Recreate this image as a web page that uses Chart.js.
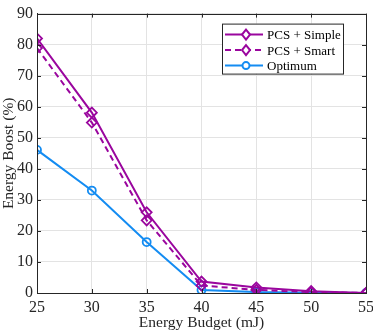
<!DOCTYPE html>
<html>
<head>
<meta charset="utf-8">
<script src="https://cdn.jsdelivr.net/npm/chart.js@4/dist/chart.umd.min.js"></script>
<style>
html,body{margin:0;padding:0;background:#fff}
#wrap{width:373px;height:332px}
</style>
</head>
<body>
<div id="wrap"><canvas id="c" width="373" height="332"></canvas></div>
<script>
// данные графика
const budgets = [25, 30, 35, 40, 45, 50, 55]
const pcsSimple = [82, 58.1, 26, 3.7, 1.8, 0.6, 0]
const pcsSmart = [78.9, 54.9, 23.4, 2.4, 1.0, 0.3, 0]
const optimum = [46.1, 33, 16.4, 1.0, 0.3, 0.1, 0]
const yTicks = [0, 10, 20, 30, 40, 50, 60, 70, 80, 90]
const seriesNames = ["PCS + Simple", "PCS + Smart", "Optimum"]

const purple = "#9a069e"
const blue = "#148cf2"
const serif = "'Liberation Serif', 'DejaVu Serif', serif"

function pts(vals){
return budgets.map((x,i)=>({x:x, y:vals[i]}))
}

// рамка и внутренние засечки как в matlab
const boxPlugin = {
id:"box",
afterDraw(chart){
const ctx = chart.ctx
const a = chart.chartArea
const xs = chart.scales.x
const ys = chart.scales.y
ctx.save()
ctx.strokeStyle = "#262626"
ctx.lineWidth = 1
ctx.beginPath()
budgets.forEach(v=>{
const px = Math.round(xs.getPixelForValue(v)) + 0.5
ctx.moveTo(px, a.bottom); ctx.lineTo(px, a.bottom - 4)
ctx.moveTo(px, a.top); ctx.lineTo(px, a.top + 4)
})
yTicks.forEach(v=>{
const py = Math.round(ys.getPixelForValue(v)) + 0.5
ctx.moveTo(a.left, py); ctx.lineTo(a.left + 4, py)
ctx.moveTo(a.right, py); ctx.lineTo(a.right - 4, py)
})
ctx.stroke()
ctx.strokeRect(Math.round(a.left)+0.5, Math.round(a.top)+0.5, Math.round(a.right-a.left), Math.round(a.bottom-a.top))
ctx.restore()
}
}

// легенда внутри поля графика
const legendPlugin = {
id:"innerLegend",
afterDraw(chart){
const ctx = chart.ctx
const a = chart.chartArea
const bx = a.right - 144, by = a.top + 10, bw = 121, bh = 50
ctx.save()
ctx.fillStyle = "#fff"
ctx.fillRect(bx, by, bw, bh)
ctx.strokeStyle = "#262626"
ctx.lineWidth = 1
ctx.strokeRect(bx+0.5, by+0.5, bw, bh)
ctx.font = "13px " + serif
ctx.textBaseline = "middle"
chart.data.datasets.forEach((d,i)=>{
const cy = by + 11 + i*15.5
ctx.strokeStyle = d.borderColor
ctx.lineWidth = 2
ctx.setLineDash(d.borderDash || [])
ctx.beginPath()
ctx.moveTo(bx+3, cy); ctx.lineTo(bx+41, cy)
ctx.stroke()
ctx.setLineDash([])
const mx = bx + 24
ctx.fillStyle = "#fff"
ctx.beginPath()
if(d.pointStyle === "rectRot"){
const r = 5
ctx.moveTo(mx, cy-r); ctx.lineTo(mx+r*0.8, cy); ctx.lineTo(mx, cy+r); ctx.lineTo(mx-r*0.8, cy); ctx.closePath()
} else {
ctx.arc(mx, cy, 3.5, 0, Math.PI*2)
}
ctx.fill()
ctx.stroke()
ctx.fillStyle = "#000"
ctx.fillText(d.label, bx+45, cy+1)
})
ctx.restore()
}
}

const common = {
fill:false,
borderWidth:2,
pointBorderWidth:1.8,
pointBackgroundColor:"rgba(255,255,255,0)",
tension:0
}

new Chart(document.getElementById("c"),{
type:"line",
data:{
datasets:[
{...common, label:seriesNames[0], data:pts(pcsSimple), borderColor:purple, pointBorderColor:purple, pointStyle:"rectRot", pointRadius:5},
{...common, label:seriesNames[1], data:pts(pcsSmart), borderColor:purple, pointBorderColor:purple, pointStyle:"rectRot", pointRadius:5, borderDash:[6,4]},
{...common, label:seriesNames[2], data:pts(optimum), borderColor:blue, pointBorderColor:blue, pointStyle:"circle", pointRadius:4}
]
},
options:{
responsive:false,
animation:false,
layout:{padding:{top:5, right:7, left:0, bottom:0}},
plugins:{
legend:{display:false},
tooltip:{enabled:false}
},
scales:{
x:{
type:"linear",
min:25, max:55,
afterBuildTicks(s){ s.ticks = budgets.map(v=>({value:v})) },
afterFit(s){ s.height = 39; s.paddingLeft = 0; s.paddingRight = 0 },
grid:{color:"#e3e3e3", drawTicks:false},
border:{color:"#262626"},
ticks:{font:{family:serif, size:16}, color:"#262626", padding:5, maxRotation:0},
title:{display:true, text:"Energy Budget (mJ)", font:{family:serif, size:15.5}, color:"#262626", padding:{top:0,bottom:0}}
},
y:{
min:0, max:90,
afterBuildTicks(s){ s.ticks = yTicks.map(v=>({value:v})) },
afterFit(s){ s.width = 37 },
grid:{color:"#e3e3e3", drawTicks:false},
border:{color:"#262626"},
ticks:{font:{family:serif, size:16}, color:"#262626", padding:4},
title:{display:true, text:"Energy Boost (%)", font:{family:serif, size:15.5}, color:"#262626", padding:{top:0,bottom:0}}
}
}
},
plugins:[boxPlugin, legendPlugin]
})
</script>
</body>
</html>
